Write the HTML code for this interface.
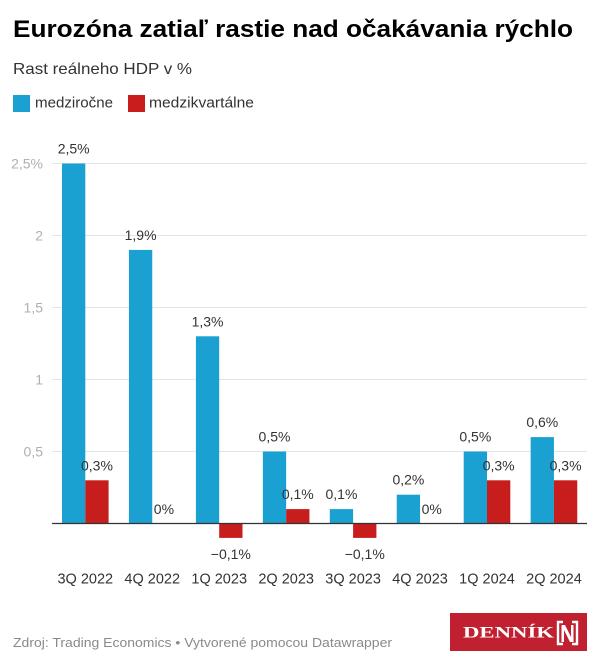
<!DOCTYPE html>
<html><head><meta charset="utf-8">
<style>
html,body{margin:0;padding:0;background:#fff;}
svg{display:block;}
text{font-family:"Liberation Sans",Arial,sans-serif;}
</style></head>
<body>
<svg width="600" height="664" viewBox="0 0 600 664" xmlns="http://www.w3.org/2000/svg">
<rect width="600" height="664" fill="#fff"/>
<text x="13" y="37" font-size="24" font-weight="bold" fill="#000" textLength="560" lengthAdjust="spacingAndGlyphs">Eurozóna zatiaľ rastie nad očakávania rýchlo</text>
<text x="13" y="74" font-size="16" fill="#333" textLength="179" lengthAdjust="spacingAndGlyphs">Rast reálneho HDP v %</text>
<rect x="13" y="95" width="17" height="17" fill="#1aa1d1"/>
<text x="35" y="107.5" font-size="15" fill="#333" textLength="78" lengthAdjust="spacingAndGlyphs">medziročne</text>
<rect x="128" y="95" width="17" height="17" fill="#c71e1d"/>
<text x="149" y="107.5" font-size="15" fill="#333" textLength="105" lengthAdjust="spacingAndGlyphs">medzikvartálne</text>

<g stroke="#e5e5e5" stroke-width="1">
<line x1="52" x2="587" y1="163.5" y2="163.5"/>
<line x1="52" x2="587" y1="235.5" y2="235.5"/>
<line x1="52" x2="587" y1="307.5" y2="307.5"/>
<line x1="52" x2="587" y1="379.5" y2="379.5"/>
<line x1="52" x2="587" y1="451.5" y2="451.5"/>
</g>
<g font-size="14" fill="#b0b0b0" text-anchor="end">
<text x="43" y="168.5">2,5%</text>
<text x="43" y="240.5">2</text>
<text x="43" y="312.5">1,5</text>
<text x="43" y="384.5">1</text>
<text x="43" y="456.5">0,5</text>
</g>

<g fill="#1aa1d1">
<rect x="62" y="163.5" width="23.3" height="360"/>
<rect x="128.95" y="249.9" width="23.3" height="273.6"/>
<rect x="195.9" y="336.3" width="23.3" height="187.2"/>
<rect x="262.85" y="451.5" width="23.3" height="72"/>
<rect x="329.8" y="509.1" width="23.3" height="14.4"/>
<rect x="396.75" y="494.7" width="23.3" height="28.8"/>
<rect x="463.7" y="451.5" width="23.3" height="72"/>
<rect x="530.65" y="437.1" width="23.3" height="86.4"/>
</g>
<g fill="#c71e1d">
<rect x="85.3" y="480.3" width="23.3" height="43.2"/>
<rect x="219.2" y="523.5" width="23.3" height="14.4"/>
<rect x="286.15" y="509.1" width="23.3" height="14.4"/>
<rect x="353.1" y="523.5" width="23.3" height="14.4"/>
<rect x="487" y="480.3" width="23.3" height="43.2"/>
<rect x="553.95" y="480.3" width="23.3" height="43.2"/>
</g>
<line x1="52" x2="587" y1="523.5" y2="523.5" stroke="#333" stroke-width="1.2"/>

<g font-size="14" fill="#333" text-anchor="middle">
<text x="73.65" y="153.5">2,5%</text>
<text x="140.6" y="240">1,9%</text>
<text x="207.55" y="326.3">1,3%</text>
<text x="274.5" y="441.5">0,5%</text>
<text x="341.45" y="499.1">0,1%</text>
<text x="408.4" y="484.7">0,2%</text>
<text x="475.35" y="441.5">0,5%</text>
<text x="542.3" y="427.1">0,6%</text>

<text x="96.95" y="470.3">0,3%</text>
<text x="163.9" y="514">0%</text>
<text x="230.85" y="559">−0,1%</text>
<text x="297.8" y="499.1">0,1%</text>
<text x="364.75" y="559">−0,1%</text>
<text x="431.7" y="514">0%</text>
<text x="498.65" y="470.3">0,3%</text>
<text x="565.6" y="470.3">0,3%</text>
</g>

<g font-size="14.5" fill="#333" text-anchor="middle">
<text x="85.3" y="583.5">3Q 2022</text>
<text x="152.25" y="583.5">4Q 2022</text>
<text x="219.2" y="583.5">1Q 2023</text>
<text x="286.15" y="583.5">2Q 2023</text>
<text x="353.1" y="583.5">3Q 2023</text>
<text x="420.05" y="583.5">4Q 2023</text>
<text x="487" y="583.5">1Q 2024</text>
<text x="553.95" y="583.5">2Q 2024</text>
</g>

<text x="13" y="647" font-size="12.5" fill="#8a8a8a" textLength="379" lengthAdjust="spacingAndGlyphs">Zdroj: Trading Economics • Vytvorené pomocou Datawrapper</text>

<rect x="450" y="613" width="137" height="38" fill="#c0202f"/>
<text x="463" y="637.5" font-size="16" font-weight="bold" fill="#fff" textLength="91" lengthAdjust="spacingAndGlyphs" style="font-family:'Liberation Serif',serif">DENNÍK</text>
<g fill="none" stroke="#fff" stroke-width="2.4">
<path d="M563,622 H558 V644 H563"/>
<path d="M572,622 H577 V644 H572"/>
</g>
<path d="M561.5,625 H565 L571,637 V625 H573.5 V642 H570 L564,630 V642 H561.5 Z" fill="#fff"/>
</svg>
</body></html>
